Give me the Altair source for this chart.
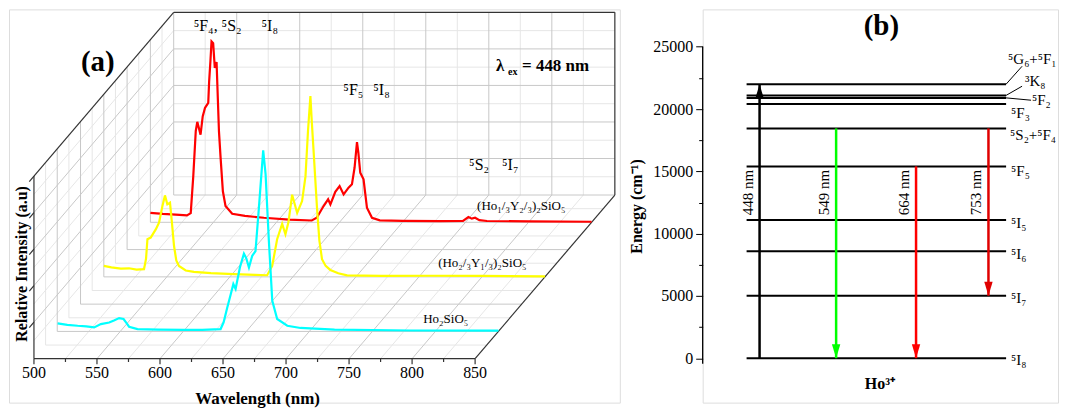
import altair as alt
import pandas as pd

FONT = "Liberation Serif"

# ============ Panel (a) data ============
SERIES_NAMES = ["Ho₂SiO₅", "(Ho₂/₃Y₁/₃)₂SiO₅", "(Ho₁/₃Y₂/₃)₂SiO₅"]
SERIES_DEPTH = [1, 3, 5]

CYAN_WL = [500.3, 508, 516.2, 523, 529.3, 534.6, 541.2, 545, 549.1, 552.6, 555, 557, 563.7,
           580, 600.6, 615, 629.6, 632, 634.9, 637.5, 639.7, 641.5, 644.9, 648.1, 650, 652.1,
           654.7, 657.3, 660, 663.4, 665.3, 667.9, 670.6, 674.5, 682.5, 693, 720, 780, 850]
CYAN_I = [0.044, 0.036, 0.031, 0.028, 0.022, 0.040, 0.049, 0.060, 0.073, 0.068, 0.045, 0.026, 0.013,
          0.010, 0.008, 0.009, 0.013, 0.050, 0.131, 0.200, 0.259, 0.232, 0.350, 0.426, 0.400, 0.350,
          0.414, 0.440, 0.678, 0.991, 0.860, 0.496, 0.168, 0.068, 0.031, 0.019, 0.010, 0.005, 0.004]

YELLOW_WL = [500, 506, 513.5, 520, 526, 531.9, 533.5, 534.6, 537.2, 541.2, 543.8, 546.5, 548.5,
             550.4, 552.5, 554, 555.7, 557.5, 559.6, 565, 571.5, 585, 603, 620, 629.6, 633.6,
             637.5, 641.5, 644.1, 646.5, 649.4, 653.4, 657.3, 660, 662, 663.9, 665, 666.5, 669.2,
             671, 673.1, 676, 679.7, 686, 693, 720, 760, 800, 850]
YELLOW_I = [0.060, 0.052, 0.045, 0.047, 0.040, 0.042, 0.100, 0.206, 0.215, 0.260, 0.297, 0.388, 0.446,
            0.397, 0.406, 0.300, 0.169, 0.090, 0.060, 0.035, 0.027, 0.020, 0.015, 0.011, 0.009, 0.060,
            0.206, 0.290, 0.233, 0.300, 0.450, 0.350, 0.415, 0.550, 0.800, 0.990, 0.850, 0.680, 0.370,
            0.200, 0.097, 0.060, 0.038, 0.020, 0.008, 0.005, 0.006, 0.005, 0.003]

RED_WL = [500, 510, 520, 529, 532, 534, 536, 537.2, 539.8, 541.5, 543.3, 545.9, 546.6, 547.6,
          548.5, 549.8, 551.1, 552.5, 554.4, 555.7, 557.5, 559.6, 564.9, 575, 590, 610, 628,
          632, 637.4, 641, 642.8, 646.7, 650.1, 653.3, 657.2, 659.9, 662, 663.9, 665, 666.5,
          669.1, 671.8, 675.8, 682, 700, 730, 748, 752.3, 755, 757.6, 761, 767, 800, 850]
RED_I = [0.052, 0.046, 0.042, 0.038, 0.050, 0.250, 0.500, 0.550, 0.480, 0.580, 0.626, 0.654, 0.770, 0.880,
         0.990, 0.980, 0.845, 0.877, 0.498, 0.353, 0.170, 0.089, 0.047, 0.035, 0.025, 0.015, 0.010,
         0.025, 0.089, 0.126, 0.098, 0.167, 0.198, 0.153, 0.190, 0.208, 0.300, 0.439, 0.380, 0.271,
         0.235, 0.080, 0.025, 0.011, 0.008, 0.007, 0.008, 0.029, 0.020, 0.025, 0.012, 0.007, 0.005, 0.003]

WL_MAJOR = [500, 550, 600, 650, 700, 750, 800, 850]
WL_MINOR = [525, 575, 625, 675, 725, 775, 825]
INT_MAJOR = [0.2, 0.4, 0.6, 0.8]
INT_MINOR = [0.1, 0.3, 0.5, 0.7, 0.9]
DEPTH_MAJOR = [1, 2, 3, 4, 5]
DEPTH_MINOR = [0.5, 1.5, 2.5, 3.5, 4.5, 5.5]
WL_MIN, WL_MAX, D_MAX, I_MAX = 500, 850, 6, 1.0

# ============ Panel (b) data ============
LEVEL_NAMES = ["⁵I₈", "⁵I₇", "⁵I₆", "⁵I₅", "⁵F₅", "⁵S₂+⁵F₄", "⁵F₃", "⁵F₂", "³K₈", "⁵G₆+⁵F₁"]
LEVEL_E = [0, 5020, 8580, 11100, 15400, 18450, 20400, 20900, 21100, 22000]
ARROW_NAMES = ["448 nm", "549 nm", "664 nm", "753 nm"]
ARROW_FROM = [0, 18450, 15400, 18450]
ARROW_TO = [22000, 0, 0, 5020]

# ============ styles / layout ============
SERIES_COLORS = ["#00ffff", "#ffff00", "#ff0000"]
ARROW_COLORS = ["#000000", "#00ff00", "#ff0000", "#e00000"]
GRID_MAJOR, GRID_MINOR, FRAME = "#c8c8c8", "#e6e6e6", "#333333"

WA, HA = 612, 394
PX_PER_NM = 442 / 350
PX_PER_INT = 183.0
DX = (140 / 6) / PX_PER_NM
DY = (164 / 6) / PX_PER_INT
XA_DOM = [500 - 25 / PX_PER_NM, 500 + (WA - 25) / PX_PER_NM]
YA_DOM = [-(HA - 350) / PX_PER_INT, 350 / PX_PER_INT]

WB, HB = 356, 394
PX_PER_U = 2.6
PX_PER_E = 312 / 25000
XB_DOM = [-(44) / PX_PER_U, (WB - 44) / PX_PER_U]
YB_DOM = [-(HB - 349.5) / PX_PER_E, 349.5 / PX_PER_E]
ARROW_X = [5, 34.5, 65.3, 93.2]


def pgx(px_page):
    return 500 + (px_page - 33) / PX_PER_NM


def pgy(py_page):
    return (358 - py_page) / PX_PER_INT


def bxu(px_page):
    return (px_page - 747) / PX_PER_U


def beu(py_page):
    return (357.5 - py_page) / PX_PER_E


xA = alt.X("px:Q", scale=alt.Scale(domain=XA_DOM, nice=False, zero=False), axis=None)
yA = alt.Y("py:Q", scale=alt.Scale(domain=YA_DOM, nice=False, zero=False), axis=None)

# ---- grid / frame segments (3-D box) ----
segs = []


def seg(w, d, i, w2, d2, i2, kind):
    segs.append(dict(wl=w, d=d, i=i, wl2=w2, d2=d2, i2=i2, kind=kind))


for w in WL_MINOR:
    seg(w, D_MAX, 0, w, D_MAX, I_MAX, "minor")
    seg(w, 0, 0, w, D_MAX, 0, "minor")
for v in INT_MINOR:
    seg(WL_MIN, D_MAX, v, WL_MAX, D_MAX, v, "minor")
    seg(WL_MIN, 0, v, WL_MIN, D_MAX, v, "minor")
for dd in DEPTH_MINOR:
    seg(WL_MIN, dd, 0, WL_MAX, dd, 0, "minor")
    seg(WL_MIN, dd, 0, WL_MIN, dd, I_MAX, "minor")
for w in WL_MAJOR[1:-1]:
    seg(w, D_MAX, 0, w, D_MAX, I_MAX, "major")
    seg(w, 0, 0, w, D_MAX, 0, "major")
for v in INT_MAJOR:
    seg(WL_MIN, D_MAX, v, WL_MAX, D_MAX, v, "major")
    seg(WL_MIN, 0, v, WL_MIN, D_MAX, v, "major")
for dd in DEPTH_MAJOR:
    seg(WL_MIN, dd, 0, WL_MAX, dd, 0, "major")
    seg(WL_MIN, dd, 0, WL_MIN, dd, I_MAX, "major")
seg(WL_MIN, D_MAX, 0, WL_MAX, D_MAX, 0, "major")
seg(WL_MIN, D_MAX, 0, WL_MIN, D_MAX, I_MAX, "major")
# frame
seg(WL_MIN, 0, 0, WL_MAX, 0, 0, "frame")
seg(WL_MIN, 0, 0, WL_MIN, 0, I_MAX, "frame")
seg(WL_MIN, 0, I_MAX, WL_MIN, D_MAX, I_MAX, "frame")
seg(WL_MIN, D_MAX, I_MAX, WL_MAX, D_MAX, I_MAX, "frame")
seg(WL_MAX, D_MAX, 0, WL_MAX, D_MAX, I_MAX, "frame")
seg(WL_MAX, 0, 0, WL_MAX, D_MAX, 0, "frame")
for w in WL_MAJOR:
    seg(w, 0, 0, w, 0, -0.03, "frame")
for w in WL_MINOR:
    seg(w, 0, 0, w, 0, -0.018, "frame")
for v in [0.2, 0.4, 0.6, 0.8, 1.0]:
    seg(WL_MIN, 0, v, WL_MIN, -0.2, v, "frame")
seg_df = pd.DataFrame(segs)


def project(ch, two=False):
    ch = ch.transform_calculate(px=f"datum.wl + datum.d * {DX}", py=f"datum.i + datum.d * {DY}")
    if two:
        ch = ch.transform_calculate(px2=f"datum.wl2 + datum.d2 * {DX}", py2=f"datum.i2 + datum.d2 * {DY}")
    return ch


layersA = []
for kind, col, sw in [("minor", GRID_MINOR, 1), ("major", GRID_MAJOR, 1), ("frame", FRAME, 1.2)]:
    layersA.append(
        project(alt.Chart(seg_df).transform_filter(f"datum.kind == '{kind}'"), two=True)
        .mark_rule(color=col, strokeWidth=sw)
        .encode(x=xA, y=yA, x2="px2:Q", y2="py2:Q")
    )

spectra = [(RED_WL, RED_I, 2), (YELLOW_WL, YELLOW_I, 1), (CYAN_WL, CYAN_I, 0)]
for wl, it, k in spectra:
    df = pd.DataFrame({"wl": wl, "i": it, "d": SERIES_DEPTH[k], "idx": list(range(len(wl)))})
    layersA.append(
        project(alt.Chart(df)).mark_line(color=SERIES_COLORS[k], strokeWidth=2.2)
        .encode(x=xA, y=yA, order="idx:Q")
    )

# tick labels
tick_df = pd.DataFrame({"wl": WL_MAJOR, "d": 0, "i": -0.08, "t": [str(w) for w in WL_MAJOR]})
layersA.append(
    project(alt.Chart(tick_df)).mark_text(font=FONT, fontSize=16, color="black", baseline="middle")
    .encode(x=xA, y=yA, text="t:N")
)

# annotation labels (projected-space positions)
ann_norm = pd.DataFrame({
    "t": ["⁵F₄, ⁵S₂", "⁵I₈", "⁵F₅", "⁵I₈", "⁵S₂", "⁵I₇"],
    "px": [pgx(193), pgx(261), pgx(343), pgx(373), pgx(469), pgx(502)],
    "py": [pgy(25), pgy(25), pgy(89), pgy(89), pgy(164), pgy(164)],
})
layersA.append(alt.Chart(ann_norm).mark_text(font=FONT, fontSize=16, align="left", baseline="middle", color="black")
               .encode(x=xA, y=yA, text="t:N"))

ser_df = pd.DataFrame({
    "t": SERIES_NAMES,
    "px": [pgx(423), pgx(438), pgx(477)],
    "py": [pgy(318), pgy(262), pgy(205)],
})
layersA.append(alt.Chart(ser_df).mark_text(font=FONT, fontSize=13, align="left", baseline="middle", color="black")
               .encode(x=xA, y=yA, text="t:N"))

bold_df = pd.DataFrame({
    "t": ["λ", "= 448 nm", "Wavelength (nm)"],
    "px": [pgx(496), pgx(522), pgx(257)],
    "py": [pgy(65), pgy(65), pgy(398)],
    "al": ["left", "left", "center"],
})
for al in ["left", "center"]:
    layersA.append(alt.Chart(bold_df).transform_filter(f"datum.al == '{al}'")
                   .mark_text(font=FONT, fontSize=17, fontWeight="bold", align=al, baseline="middle", color="black")
                   .encode(x=xA, y=yA, text="t:N"))
layersA.append(alt.Chart(pd.DataFrame({"t": ["ex"], "px": [pgx(508)], "py": [pgy(71)]}))
               .mark_text(font=FONT, fontSize=10, fontWeight="bold", align="left", baseline="middle", color="black")
               .encode(x=xA, y=yA, text="t:N"))
layersA.append(alt.Chart(pd.DataFrame({"t": ["(a)"], "px": [pgx(97)], "py": [pgy(61)]}))
               .mark_text(font=FONT, fontSize=29, fontWeight="bold", align="center", baseline="middle", color="black")
               .encode(x=xA, y=yA, text="t:N"))
layersA.append(alt.Chart(pd.DataFrame({"t": ["Relative Intensity (a.u)"], "px": [pgx(21)], "py": [pgy(263)]}))
               .mark_text(font=FONT, fontSize=16, fontWeight="bold", align="center", baseline="middle",
                          angle=270, color="black")
               .encode(x=xA, y=yA, text="t:N"))

panelA = alt.layer(*layersA).properties(width=WA, height=HA)

# ============ Panel (b) ============
axisB = alt.Axis(
    values=list(range(0, 25001, 2500)),
    labelExpr="datum.value % 5000 == 0 ? datum.label : ''",
    format="d", domain=False, grid=False, ticks=True, tickColor="black", tickWidth=1,
    tickSize={"condition": {"test": "datum.value % 5000 == 0", "value": 7}, "value": 4},
    labelFont=FONT, labelFontSize=16, labelColor="black", labelPadding=3, labelOverlap=False,
    title="Energy (cm⁻¹)", titleFont=FONT, titleFontSize=16, titleFontWeight="bold",
    titleColor="black", titlePadding=8,
)
xB = alt.X("bx:Q", scale=alt.Scale(domain=XB_DOM, nice=False, zero=False), axis=None)
yB = alt.Y("e:Q", scale=alt.Scale(domain=YB_DOM, nice=False, zero=False), axis=axisB)

layersB = []
layersB.append(alt.Chart(pd.DataFrame({"bx": [XB_DOM[0]], "e": [-450], "e2": [25000]}))
               .mark_rule(color="black", strokeWidth=1.3).encode(x=xB, y=yB, y2="e2:Q"))
lev_df = pd.DataFrame({"name": LEVEL_NAMES, "e": LEVEL_E, "bx": 0, "bx2": 100})
layersB.append(alt.Chart(lev_df).mark_rule(color="black", strokeWidth=2)
               .encode(x=xB, x2="bx2:Q", y=yB))

arr_df = pd.DataFrame({"name": ARROW_NAMES, "bx": ARROW_X, "e": ARROW_FROM, "e2": ARROW_TO})
arr_color = alt.Color("name:N", scale=alt.Scale(domain=ARROW_NAMES, range=ARROW_COLORS), legend=None)
layersB.append(alt.Chart(arr_df).mark_rule(strokeWidth=2.5).encode(x=xB, y=yB, y2="e2:Q", color=arr_color))
yTip = alt.Y("e2:Q", scale=alt.Scale(domain=YB_DOM, nice=False, zero=False), axis=axisB)
layersB.append(alt.Chart(arr_df).transform_filter("datum.e2 > datum.e")
               .mark_point(shape="M-0.6,2L0.6,2L0,0Z", filled=True, size=196, opacity=1, strokeWidth=0)
               .encode(x=xB, y=yTip, color=arr_color))
layersB.append(alt.Chart(arr_df).transform_filter("datum.e2 < datum.e")
               .mark_point(shape="M-0.6,-2L0.6,-2L0,0Z", filled=True, size=196, opacity=1, strokeWidth=0)
               .encode(x=xB, y=yTip, color=arr_color))
arr_lab = pd.DataFrame({"name": ARROW_NAMES, "bx": ARROW_X, "e": 13300})
layersB.append(alt.Chart(arr_lab).mark_text(font=FONT, fontSize=15, angle=270, dy=-12, align="center",
                                            baseline="middle", color="black")
               .encode(x=xB, y=yB, text="name:N"))

lab_df = pd.DataFrame({
    "name": LEVEL_NAMES,
    "bx": [bxu(1012), bxu(1012), bxu(1012), bxu(1012), bxu(1012), bxu(1011), bxu(1012),
           bxu(1033), bxu(1026), bxu(1009)],
    "e": [beu(359), beu(297), beu(253), beu(222), beu(170), beu(134), beu(112),
          beu(99), beu(80), beu(58)],
})
layersB.append(alt.Chart(lab_df).mark_text(font=FONT, fontSize=15, align="left", baseline="middle", color="black")
               .encode(x=xB, y=yB, text="name:N"))
con_df = pd.DataFrame({"bx": [100, 100, 100], "e": [22000, 21100, 20900],
                       "bx2": [bxu(1023), bxu(1023), bxu(1032)], "e2": [beu(65), beu(85), beu(99)]})
layersB.append(alt.Chart(con_df).mark_rule(color="black", strokeWidth=1)
               .encode(x=xB, y=yB, x2="bx2:Q", y2="e2:Q"))
layersB.append(alt.Chart(pd.DataFrame({"t": ["Ho³⁺"], "bx": [bxu(880.5)], "e": [beu(383)]}))
               .mark_text(font=FONT, fontSize=16, fontWeight="bold", align="center", baseline="middle", color="black")
               .encode(x=xB, y=yB, text="t:N"))
layersB.append(alt.Chart(pd.DataFrame({"t": ["(b)"], "bx": [bxu(882)], "e": [beu(25)]}))
               .mark_text(font=FONT, fontSize=29, fontWeight="bold", align="center", baseline="middle", color="black")
               .encode(x=xB, y=yB, text="t:N"))

panelB = alt.layer(*layersB).properties(width=WB, height=HB)

chart = alt.HConcatChart(hconcat=[panelA, panelB], spacing=83, bounds="flush", padding=0)
chart = chart.configure_view(stroke=None).configure(background="white")
chart.save("out.html", embed_options={"renderer": "svg", "actions": False})
